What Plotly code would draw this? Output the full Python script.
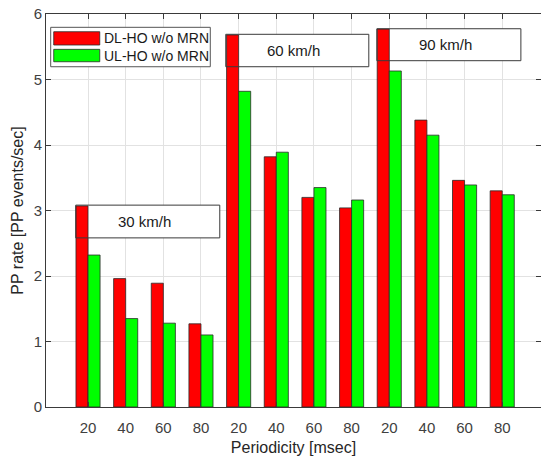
import plotly.graph_objects as go

# ---- data ----
periods = ["20", "40", "60", "80", "20", "40", "60", "80", "20", "40", "60", "80"]
dl_ho = [3.07, 1.96, 1.89, 1.27, 5.68, 3.82, 3.20, 3.04, 5.77, 4.38, 3.46, 3.30]
ul_ho = [2.32, 1.35, 1.28, 1.10, 4.82, 3.89, 3.35, 3.16, 5.13, 4.15, 3.39, 3.24]
series_names = ["DL-HO w/o MRN", "UL-HO w/o MRN"]
speed_labels = ["30 km/h", "60 km/h", "90 km/h"]
y_ticks = [0, 1, 2, 3, 4, 5, 6]

positions = list(range(1, len(periods) + 1))

FONT = "Liberation Sans, Arial, sans-serif"
AX = "#3a3a3a"
EDGE = "#2a2a2a"

fig = go.Figure()
fig.add_trace(go.Bar(x=positions, y=dl_ho, name=series_names[0],
                     marker=dict(color="#ff0000", line=dict(color=EDGE, width=0.8)),
                     showlegend=False))
fig.add_trace(go.Bar(x=positions, y=ul_ho, name=series_names[1],
                     marker=dict(color="#00ff00", line=dict(color=EDGE, width=0.8)),
                     showlegend=False))

# speed label boxes (data coords)
boxes = [
    (0.673, 4.499, 2.582, 3.082),
    (4.658, 8.457, 5.195, 5.690),
    (8.670, 12.496, 5.287, 5.775),
]
shapes = []
annotations = []
for (x0, x1, y0, y1), lab in zip(boxes, speed_labels):
    shapes.append(dict(type="rect", xref="x", yref="y", x0=x0, x1=x1, y0=y0, y1=y1,
                       fillcolor="white", line=dict(width=0), layer="between"))
    shapes.append(dict(type="rect", xref="x", yref="y", x0=x0, x1=x1, y0=y0, y1=y1,
                       fillcolor="rgba(0,0,0,0)", line=dict(color="#3a3a3a", width=1),
                       layer="above"))
    annotations.append(dict(xref="x", yref="y", x=(x0 + x1) / 2 - 0.09, y=(y0 + y1) / 2,
                            text=lab, showarrow=False,
                            font=dict(family=FONT, size=15, color="#1a1a1a"),
                            xanchor="center", yanchor="middle"))

# manual legend (paper coords)
shapes.append(dict(type="rect", xref="paper", yref="paper", x0=0.0095, x1=0.3319,
                   y0=0.8658, y1=0.9661, fillcolor="white",
                   line=dict(color="#555555", width=1), layer="above"))
sw = [(0.9211, 0.9549, "#ff0000"), (0.8785, 0.9101, "#00ff00")]
for (y0, y1, c) in sw:
    shapes.append(dict(type="rect", xref="paper", yref="paper", x0=0.0156, x1=0.1086,
                       y0=y0, y1=y1, fillcolor=c, line=dict(color=EDGE, width=0.8),
                       layer="above"))
for name, yc in zip(series_names, [0.938, 0.8943]):
    annotations.append(dict(xref="paper", yref="paper", x=0.1130, y=yc, text=name,
                            showarrow=False, xanchor="left", yanchor="middle",
                            font=dict(family=FONT, size=14, color="#1a1a1a")))

fig.update_layout(
    width=541, height=457,
    margin=dict(l=46, r=0, t=14, b=50),
    paper_bgcolor="white", plot_bgcolor="white",
    barmode="group", bargap=0.36, bargroupgap=0,
    font=dict(family=FONT, size=15, color="#404040"),
    shapes=shapes, annotations=annotations,
    showlegend=False,
)
fig.update_xaxes(
    range=[-0.116, 13.03], tickmode="array", tickvals=positions, ticktext=periods,
    showgrid=True, gridcolor="#e2e2e2", gridwidth=1,
    showline=True, linecolor=AX, linewidth=1, mirror="ticks",
    ticks="inside", ticklen=5, tickcolor=AX,
    ticklabelstandoff=7,
    tickfont=dict(family=FONT, size=15, color="#404040"),
    title=dict(text="Periodicity [msec]", font=dict(family=FONT, size=16, color="#262626"),
               standoff=6),
    zeroline=False,
)
fig.update_yaxes(
    range=[0, 6], tickvals=y_ticks,
    showgrid=True, gridcolor="#e2e2e2", gridwidth=1,
    showline=True, linecolor=AX, linewidth=1, mirror="ticks",
    ticks="inside", ticklen=5, tickcolor=AX,
    tickfont=dict(family=FONT, size=15, color="#404040"),
    title=dict(text="PP rate [PP events/sec]", font=dict(family=FONT, size=16, color="#262626"),
               standoff=6),
    zeroline=False,
)

fig.write_html("out.html")
